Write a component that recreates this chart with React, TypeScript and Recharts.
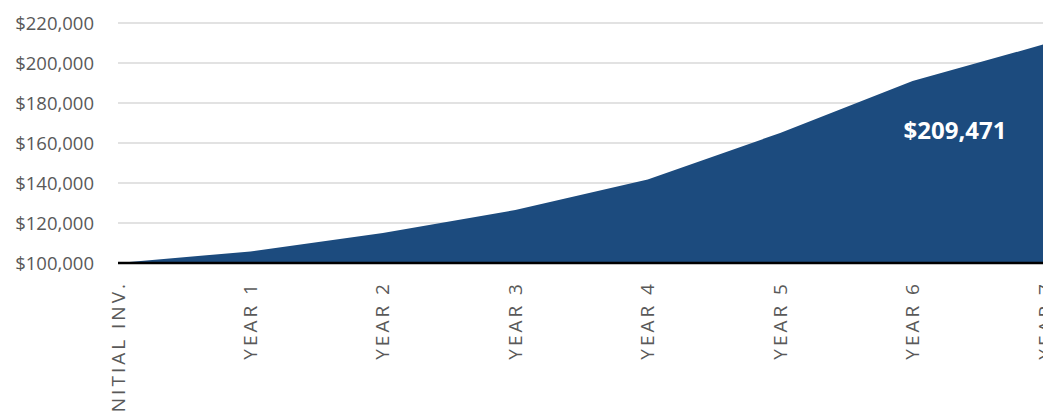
import React from "react";
import { AreaChart, Area, XAxis, YAxis, CartesianGrid, LabelList } from "recharts";

const categories = ["INITIAL INV.", "YEAR 1", "YEAR 2", "YEAR 3", "YEAR 4", "YEAR 5", "YEAR 6", "YEAR 7"];
const values = [100000, 105800, 115000, 126500, 141800, 165000, 191000, 209471];
const yTicks = [100000, 120000, 140000, 160000, 180000, 200000, 220000];

const data = categories.map((name, i) => ({ name, value: values[i] }));

const fmt = (v: number) => "$" + v.toLocaleString("en-US");

const XTick = (props: any) => {
  const { x, y, payload } = props;
  return (
    <text
      x={x}
      y={y + 18}
      transform={`rotate(-90, ${x}, ${y + 18})`}
      textAnchor="end"
      dy="0.35em"
      fill="#595959"
      fontSize={19}
      fontFamily="'Open Sans', sans-serif"
      style={{ letterSpacing: "3px" }}
    >
      {payload.value}
    </text>
  );
};

const LastLabel = (props: any) => {
  const { x, y, value, index } = props;
  if (index !== values.length - 1) return null;
  return (
    <text
      x={x - 90}
      y={y + 95}
      textAnchor="middle"
      fill="#ffffff"
      fontSize={24}
      fontWeight={700}
      fontFamily="'Open Sans', sans-serif"
    >
      {fmt(value)}
    </text>
  );
};

export default function App() {
  return (
    <div style={{ position: "fixed", top: 0, left: 0, width: 1043, height: 415, overflow: "hidden", background: "#ffffff" }}>
      <div style={{ position: "absolute", top: 8, left: 8 }}>
        <AreaChart width={1045} height={430} data={data} margin={{ top: 15, right: 8, bottom: 25, left: 0 }}>
          <CartesianGrid horizontal vertical={false} stroke="#d9d9d9" strokeWidth={1.3} />
          <XAxis
            dataKey="name"
            height={150}
            tickSize={0}
            tickMargin={0}
            interval={0}
            tick={<XTick />}
            axisLine={{ stroke: "#000000", strokeWidth: 2.5 }}
          />
          <YAxis
            width={110}
            domain={[100000, 220000]}
            ticks={yTicks}
            tickFormatter={fmt}
            tickSize={0}
            tickMargin={24}
            axisLine={false}
            tickLine={false}
            tick={{ fill: "#595959", fontSize: 18.5, fontFamily: "'Open Sans', sans-serif" }}
          />
          <Area
            type="linear"
            dataKey="value"
            stroke="none"
            fill="#1c4b7e"
            fillOpacity={1}
            isAnimationActive={false}
            baseValue={100000}
          >
            <LabelList dataKey="value" content={<LastLabel />} />
          </Area>
        </AreaChart>
      </div>
    </div>
  );
}
